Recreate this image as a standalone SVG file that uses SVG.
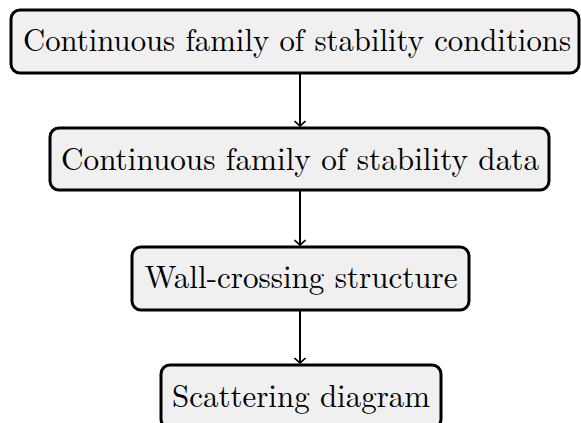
<svg xmlns="http://www.w3.org/2000/svg" width="581" height="423" viewBox="0 0 581 423">
<style>
.box{fill:#f0f0f0;stroke:#000;stroke-width:3}
.t{font-family:"Latin Modern Roman","Liberation Serif",serif;font-size:32px;fill:#000;text-anchor:middle}
.c{stroke:#000;stroke-width:2;fill:none}
</style>
<defs>
<marker id="ar" viewBox="-6 -6 12 12" markerWidth="12" markerHeight="12" markerUnits="userSpaceOnUse" refX="0" refY="0" orient="auto">
<path d="M-5,-5.5 Q-1,-1 0,0 Q-1,1 -5,5.5" fill="none" stroke="#000" stroke-width="1.6"/>
</marker>
</defs>
<g id="n1"><rect class="box" x="11" y="10" width="568" height="63" rx="9"/><text class="t" x="297" y="51" textLength="548" lengthAdjust="spacingAndGlyphs">Continuous family of stability conditions</text></g>
<g id="n2"><rect class="box" x="50" y="128" width="499" height="62" rx="9"/><text class="t" x="300" y="170" textLength="478" lengthAdjust="spacingAndGlyphs">Continuous family of stability data</text></g>
<g id="n3"><rect class="box" x="132" y="247" width="337" height="63" rx="9"/><text class="t" x="301" y="288" textLength="313" lengthAdjust="spacingAndGlyphs">Wall-crossing structure</text></g>
<g id="n4"><rect class="box" x="161" y="365" width="280" height="63" rx="9"/><text class="t" x="301" y="407" textLength="258" lengthAdjust="spacingAndGlyphs">Scattering diagram</text></g>
<g id="connectors">
<line class="c" x1="300" y1="74" x2="300" y2="126" marker-end="url(#ar)"/>
<line class="c" x1="300" y1="191" x2="300" y2="245" marker-end="url(#ar)"/>
<line class="c" x1="300" y1="311" x2="300" y2="363" marker-end="url(#ar)"/>
</g>
</svg>
